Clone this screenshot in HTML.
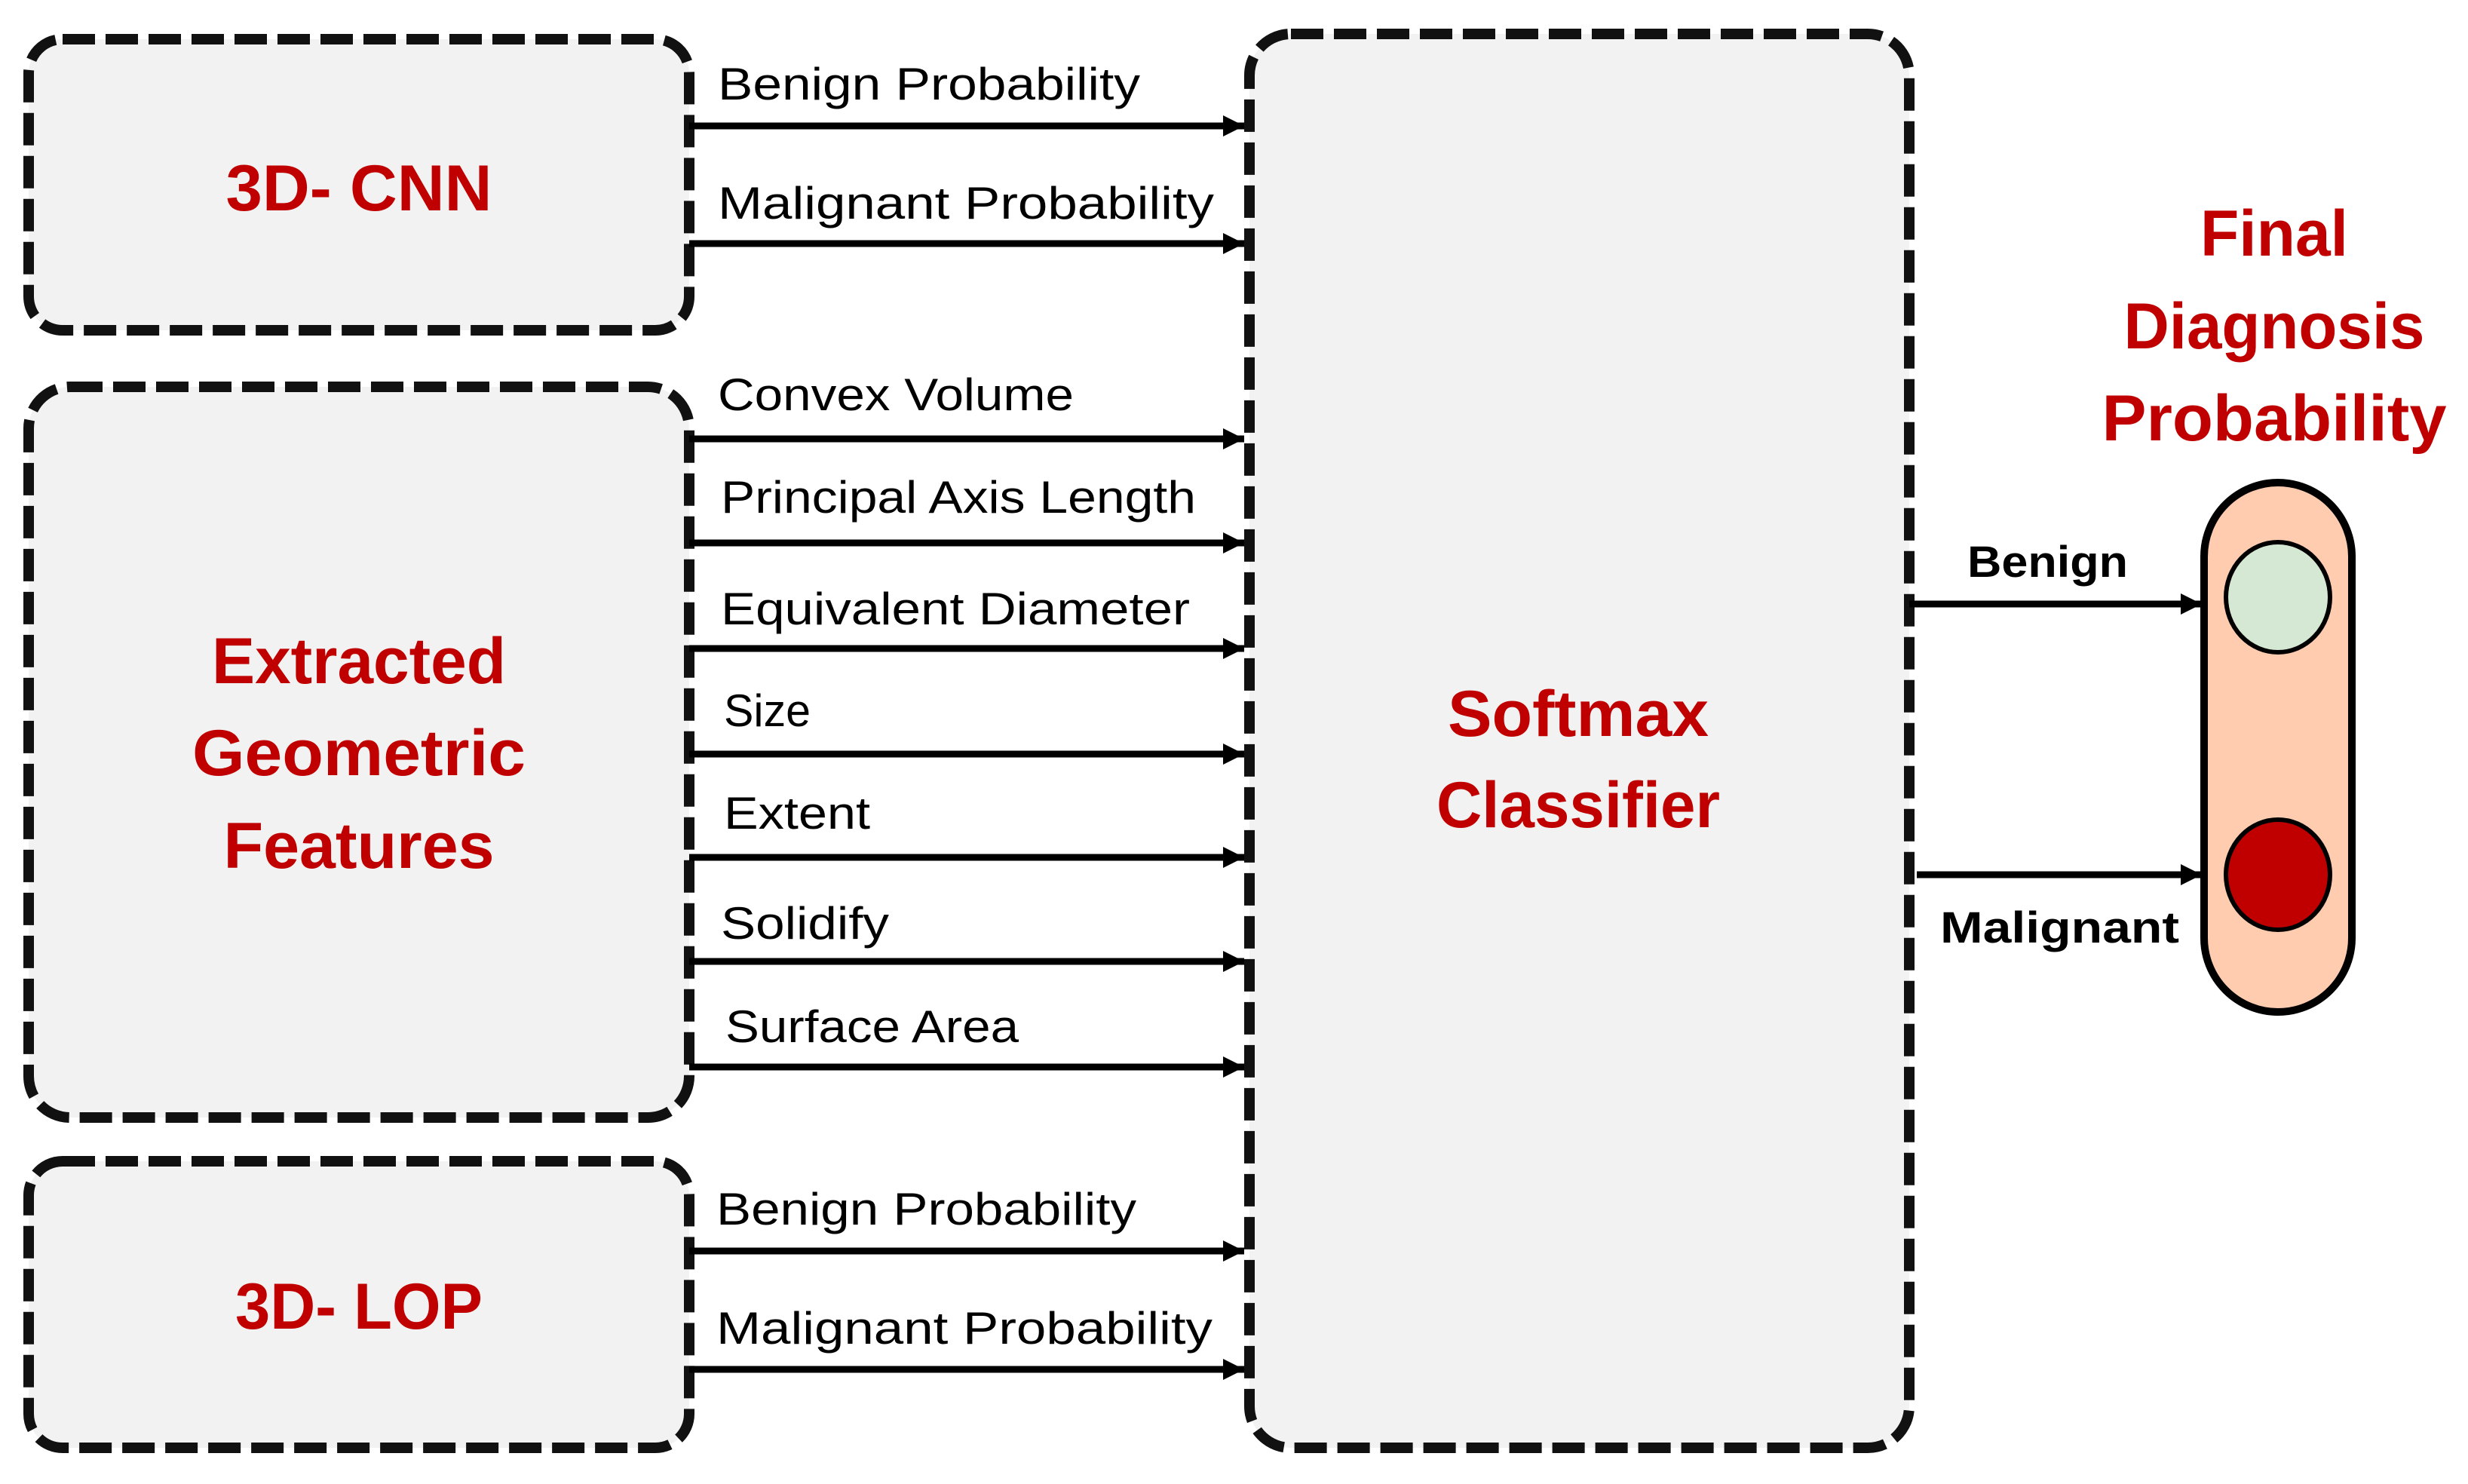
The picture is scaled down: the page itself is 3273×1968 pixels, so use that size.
<!DOCTYPE html>
<html><head><meta charset="utf-8"><style>
html,body{margin:0;padding:0;background:#fff;}
svg{display:block;}
.lbl{font-family:"Liberation Sans",sans-serif;font-size:60px;fill:#000;}
.t{font-family:"Liberation Sans",sans-serif;font-weight:bold;font-size:86px;fill:#C00000;text-anchor:middle;}
.b{font-family:"Liberation Sans",sans-serif;font-weight:bold;font-size:58px;fill:#000;}
</style></head><body>
<svg width="3273" height="1968" viewBox="0 0 3273 1968" xmlns="http://www.w3.org/2000/svg">
<defs>
<marker id="ah" markerWidth="30" markerHeight="30" refX="28" refY="14" orient="auto" markerUnits="userSpaceOnUse">
<path d="M0,0 L28,14 L0,28 Z" fill="#000"/>
</marker>
</defs>
<g fill="#F2F2F2" stroke="#111" stroke-width="14" stroke-dasharray="43 14">
<rect x="38" y="52" width="876" height="386" rx="45"/>
<rect x="38" y="513" width="876" height="969" rx="55"/>
<rect x="38" y="1540" width="876" height="380" rx="45"/>
<rect x="1657" y="45" width="875" height="1875" rx="55"/>
</g>
<g stroke="#000" stroke-width="9" marker-end="url(#ah)">
<line x1="914" y1="167" x2="1650" y2="167"/>
<line x1="914" y1="323" x2="1650" y2="323"/>
<line x1="914" y1="582" x2="1650" y2="582"/>
<line x1="914" y1="720" x2="1650" y2="720"/>
<line x1="914" y1="860" x2="1650" y2="860"/>
<line x1="914" y1="1000" x2="1650" y2="1000"/>
<line x1="914" y1="1137" x2="1650" y2="1137"/>
<line x1="914" y1="1275" x2="1650" y2="1275"/>
<line x1="914" y1="1415" x2="1650" y2="1415"/>
<line x1="914" y1="1659" x2="1650" y2="1659"/>
<line x1="914" y1="1816" x2="1650" y2="1816"/>
<line x1="2532" y1="801" x2="2920" y2="801"/>
<line x1="2542" y1="1160" x2="2920" y2="1160"/>
</g>
<text class="lbl" x="952" y="132" textLength="560" lengthAdjust="spacingAndGlyphs">Benign Probability</text>
<text class="lbl" x="952" y="290" textLength="658" lengthAdjust="spacingAndGlyphs">Malignant Probability</text>
<text class="lbl" x="952" y="544" textLength="472" lengthAdjust="spacingAndGlyphs">Convex Volume</text>
<text class="lbl" x="956" y="680" textLength="630" lengthAdjust="spacingAndGlyphs">Principal Axis Length</text>
<text class="lbl" x="956" y="828" textLength="622" lengthAdjust="spacingAndGlyphs">Equivalent Diameter</text>
<text class="lbl" x="960" y="963" textLength="115" lengthAdjust="spacingAndGlyphs">Size</text>
<text class="lbl" x="960" y="1099" textLength="194" lengthAdjust="spacingAndGlyphs">Extent</text>
<text class="lbl" x="956" y="1245" textLength="223" lengthAdjust="spacingAndGlyphs">Solidify</text>
<text class="lbl" x="962" y="1382" textLength="389" lengthAdjust="spacingAndGlyphs">Surface Area</text>
<text class="lbl" x="950" y="1624" textLength="557" lengthAdjust="spacingAndGlyphs">Benign Probability</text>
<text class="lbl" x="950" y="1782" textLength="658" lengthAdjust="spacingAndGlyphs">Malignant Probability</text>
<text class="t" x="476" y="279" textLength="353" lengthAdjust="spacingAndGlyphs">3D- CNN</text>
<text class="t" x="476" y="906" textLength="390" lengthAdjust="spacingAndGlyphs">Extracted</text>
<text class="t" x="476" y="1028" textLength="442" lengthAdjust="spacingAndGlyphs">Geometric</text>
<text class="t" x="476" y="1151" textLength="359" lengthAdjust="spacingAndGlyphs">Features</text>
<text class="t" x="476" y="1762" textLength="328" lengthAdjust="spacingAndGlyphs">3D- LOP</text>
<text class="t" x="2093" y="976" textLength="346" lengthAdjust="spacingAndGlyphs">Softmax</text>
<text class="t" x="2093" y="1097" textLength="376" lengthAdjust="spacingAndGlyphs">Classifier</text>
<text class="t" x="3016" y="339" textLength="196" lengthAdjust="spacingAndGlyphs">Final</text>
<text class="t" x="3016" y="462" textLength="399" lengthAdjust="spacingAndGlyphs">Diagnosis</text>
<text class="t" x="3016" y="584" textLength="457" lengthAdjust="spacingAndGlyphs">Probability</text>
<text class="b" x="2609" y="765" textLength="213" lengthAdjust="spacingAndGlyphs">Benign</text>
<text class="b" x="2573" y="1250" textLength="317" lengthAdjust="spacingAndGlyphs">Malignant</text>
<rect x="2923" y="640" width="196" height="702" rx="98" fill="#FFCCB0" stroke="#000" stroke-width="10"/>
<ellipse cx="3021" cy="792" rx="69" ry="73" fill="#D5E8D4" stroke="#000" stroke-width="6"/>
<ellipse cx="3021" cy="1160" rx="69" ry="73" fill="#C00000" stroke="#000" stroke-width="6"/>
</svg>
</body></html>
